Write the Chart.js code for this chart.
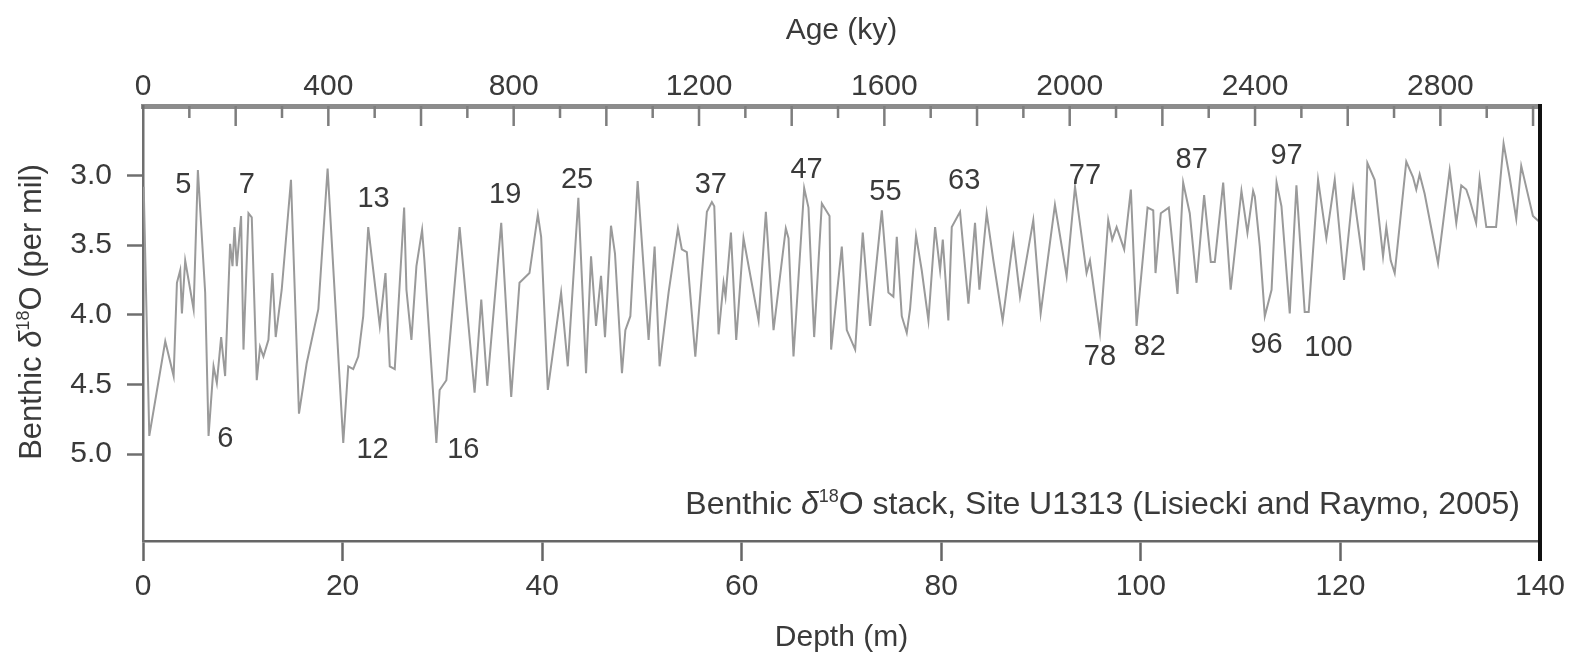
<!DOCTYPE html>
<html><head><meta charset="utf-8">
<script src="https://cdn.jsdelivr.net/npm/chart.js@4.4.1/dist/chart.umd.min.js"></script>
<style>html,body{margin:0;padding:0;background:#fff;}canvas{display:block;}</style>
</head><body>
<canvas id="c" width="1575" height="657"></canvas>
<script>
// ---- data ----
const depth = [
0.07,0.63,2.23,3.07,3.40,3.73,3.90,4.23,5.07,5.50,6.23,6.57,7.07,7.40,7.83,8.23,8.73,8.97,9.17,9.40,
9.83,10.07,10.57,10.90,11.40,11.73,12.07,12.57,12.97,13.30,13.90,14.83,15.63,16.40,17.57,18.50,20.07,20.57,21.07,21.57,
22.07,22.57,23.73,24.30,24.73,25.23,26.17,26.40,26.90,27.40,27.97,28.20,29.40,29.73,30.40,31.73,33.23,33.90,34.50,35.90,
36.90,37.73,38.73,39.57,39.90,40.57,41.90,42.57,43.63,44.40,44.90,45.40,45.90,46.30,46.90,47.30,48.00,48.34,48.84,49.57,
50.67,51.27,51.77,52.67,53.61,54.00,54.50,55.35,56.51,57.01,57.25,57.68,58.18,58.38,58.92,59.45,60.18,61.69,62.42,63.19,
64.42,64.69,65.19,66.26,66.69,67.26,68.03,68.80,68.96,70.03,70.53,71.37,72.13,72.87,74.04,74.70,75.20,75.54,76.04,76.54,
76.87,77.47,78.04,78.71,79.38,79.88,80.15,80.71,81.05,81.88,82.72,83.38,83.82,84.55,85.22,86.15,87.22,87.89,89.22,89.96,
91.39,92.56,93.40,94.56,94.90,95.90,96.73,97.13,97.57,98.33,99.00,99.57,100.67,101.24,101.47,102.00,102.80,103.67,104.24,104.90,
105.58,106.34,107.01,107.41,108.25,109.00,110.08,110.68,111.25,111.42,111.92,112.42,113.10,113.60,114.09,114.92,115.59,116.42,116.82,117.76,
118.59,119.43,120.36,121.27,122.36,122.70,123.43,124.27,124.60,125.04,125.44,126.60,127.27,127.60,127.94,128.44,129.78,130.95,131.61,132.11,
132.61,132.94,133.60,133.95,134.62,135.60,136.35,136.95,137.62,138.12,139.29,139.90
];
const d18O = [
3.08,4.87,4.19,4.44,3.77,3.68,3.99,3.61,3.96,2.96,3.84,4.87,4.37,4.49,4.16,4.44,3.49,3.65,3.37,3.65,
3.29,4.25,3.27,3.30,4.47,4.23,4.30,4.18,3.70,4.16,3.82,3.03,4.71,4.35,3.96,2.95,4.92,4.37,4.39,4.30,
4.01,3.37,4.08,3.70,4.37,4.39,3.23,3.82,4.18,3.65,3.39,3.61,4.92,4.54,4.47,3.37,4.56,3.89,4.51,3.34,
4.59,3.77,3.70,3.28,3.44,4.54,3.84,4.37,3.16,4.42,3.58,4.08,3.72,4.16,3.36,3.56,4.42,4.11,4.01,3.04,
4.18,3.51,4.37,3.84,3.38,3.53,3.55,4.30,3.26,3.19,3.22,4.14,3.77,3.87,3.41,4.18,3.45,4.04,3.26,4.11,
3.38,3.45,4.30,3.09,3.23,4.16,3.20,3.29,4.25,3.51,4.11,4.25,3.41,4.08,3.25,3.84,3.87,3.44,4.01,4.13,
3.96,3.43,3.68,4.04,3.37,3.68,3.46,4.04,3.37,3.26,3.92,3.34,3.82,3.27,3.61,4.04,3.45,3.87,3.32,3.99,
3.21,3.72,3.08,3.70,3.61,4.13,3.32,3.46,3.37,3.53,3.10,4.08,3.23,3.25,3.70,3.27,3.23,3.85,3.05,3.27,
3.77,3.14,3.62,3.62,3.05,3.82,3.11,3.41,3.11,3.15,3.51,4.01,3.82,3.05,3.22,3.99,3.07,3.98,3.98,3.03,
3.45,3.03,3.75,3.10,3.68,2.91,3.03,3.58,3.37,3.61,3.70,2.90,3.01,3.10,2.99,3.13,3.63,2.96,3.34,3.07,
3.10,3.17,3.34,3.02,3.37,3.37,2.77,3.01,3.31,2.93,3.29,3.33
];
const depthTicks = [0,20,40,60,80,100,120,140];
const ageTicks = [0,400,800,1200,1600,2000,2400,2800];
const ageMinorTicks = [100,200,300,400,500,600,700,800,900,1000,1100,1200,1300,1400,1500,1600,1700,1800,1900,2000,2100,2200,2300,2400,2500,2600,2700,2800,2900,3000];
const d18OTicks = [3.0,3.5,4.0,4.5,5.0];
const misLabels = ['5','7','13','19','25','37','47','55','63','77','87','97','6','12','16','78','82','96','100'];
const misDepth  = [4.05,10.4,23.1,36.3,43.5,56.9,66.5,74.4,82.3,94.4,105.1,114.6,8.25,23.0,32.1,95.9,100.9,112.6,118.8];
const misValue  = [3.07,3.07,3.17,3.14,3.03,3.07,2.96,3.12,3.04,3.00,2.89,2.86,4.89,4.97,4.97,4.30,4.23,4.22,4.24];

const FONT = '"Liberation Sans", Arial, Helvetica, sans-serif';
const TXT = '#3a3a3a';

function richWidth(ctx, segs) {
  let w = 0;
  segs.forEach(s => { ctx.font = s.f; s.w = ctx.measureText(s.t).width; w += s.w; });
  return w;
}
function drawRich(ctx, segs, x0, base) {
  segs.forEach(s => { ctx.font = s.f; ctx.fillText(s.t, x0, base + s.dy); x0 += s.w; });
}

const overlay = {
  id: 'overlay',
  afterDraw(chart) {
    const {ctx, chartArea: a, scales} = chart;
    const sx = scales.x, sy = scales.y, s2 = scales.x2;
    ctx.save();
    // inward ticks of the top (age) axis
    ctx.strokeStyle = '#7d7d7d'; ctx.lineWidth = 2.5;
    ageMinorTicks.forEach(v => {
      const px = s2.getPixelForValue(v);
      const len = (v % 200 === 0) ? 20 : 12;
      ctx.beginPath(); ctx.moveTo(px, a.top); ctx.lineTo(px, a.top + len); ctx.stroke();
    });
    // right frame line
    ctx.strokeStyle = '#111'; ctx.lineWidth = 4;
    ctx.beginPath(); ctx.moveTo(a.right, a.top - 2); ctx.lineTo(a.right, a.bottom + 20); ctx.stroke();
    // MIS labels
    ctx.fillStyle = TXT; ctx.font = '29px ' + FONT;
    ctx.textAlign = 'center'; ctx.textBaseline = 'middle';
    misLabels.forEach((t, i) => ctx.fillText(t, sx.getPixelForValue(misDepth[i]), sy.getPixelForValue(misValue[i])));
    // source note
    ctx.textAlign = 'left'; ctx.textBaseline = 'alphabetic';
    const note = [
      {t: 'Benthic ', f: '32px ' + FONT, dy: 0},
      {t: '\u03B4', f: 'italic 32px ' + FONT, dy: 0},
      {t: '18', f: '18px ' + FONT, dy: -12},
      {t: 'O stack, Site U1313 (Lisiecki and Raymo, 2005)', f: '32px ' + FONT, dy: 0}
    ];
    const wn = richWidth(ctx, note);
    drawRich(ctx, note, a.right - 20 - wn, a.bottom - 27);
    // y-axis title (rotated)
    const yt = [
      {t: 'Benthic ', f: '31px ' + FONT, dy: 0},
      {t: '\u03B4', f: 'italic 31px ' + FONT, dy: 0},
      {t: '18', f: '18px ' + FONT, dy: -12},
      {t: 'O (per mil)', f: '31px ' + FONT, dy: 0}
    ];
    const wy = richWidth(ctx, yt);
    ctx.translate(41, 312);
    ctx.rotate(-Math.PI / 2);
    drawRich(ctx, yt, -wy / 2, 0);
    ctx.restore();
  }
};

new Chart(document.getElementById('c'), {
  type: 'line',
  data: { datasets: [{
    label: 'Benthic d18O',
    data: depth.map((d, i) => ({x: d, y: d18O[i]})),
    borderColor: '#9a9a9a', borderWidth: 2, pointRadius: 0, tension: 0, fill: false,
    xAxisID: 'x', yAxisID: 'y'
  }]},
  options: {
    responsive: false, animation: false, devicePixelRatio: 1,
    layout: {padding: {left: 0, right: 35, top: 0, bottom: 0}},
    plugins: {legend: {display: false}, tooltip: {enabled: false}},
    scales: {
      x: {
        type: 'linear', position: 'bottom', min: 0, max: 140,
        afterBuildTicks: s => { s.ticks = depthTicks.map(v => ({value: v})); },
        afterFit: s => { s.height = 116; },
        ticks: {autoSkip: false, maxRotation: 0, padding: 8, color: TXT, font: {family: FONT, size: 30}, callback: v => String(v)},
        grid: {drawOnChartArea: false, drawTicks: true, tickLength: 20, tickWidth: 2.5, tickColor: '#666'},
        border: {display: true, color: '#666', width: 2.5},
        title: {display: true, text: 'Depth (m)', color: TXT, font: {family: FONT, size: 30}, padding: {top: 0, bottom: 1}}
      },
      x2: {
        type: 'linear', axis: 'x', position: 'top', min: 0, max: 3015,
        afterBuildTicks: s => { s.ticks = ageTicks.map(v => ({value: v})); },
        afterFit: s => { s.height = 106; },
        ticks: {autoSkip: false, maxRotation: 0, padding: 1, color: TXT, font: {family: FONT, size: 30}, callback: v => String(v)},
        grid: {drawOnChartArea: false, drawTicks: false},
        border: {display: true, color: '#8c8c8c', width: 5},
        title: {display: true, text: 'Age (ky)', color: TXT, font: {family: FONT, size: 30}, padding: {top: 13, bottom: 0}}
      },
      y: {
        type: 'linear', position: 'left', reverse: true, min: 2.5, max: 5.625,
        afterBuildTicks: s => { s.ticks = d18OTicks.map(v => ({value: v})); },
        afterFit: s => { s.width = 143; },
        ticks: {autoSkip: false, padding: 15, color: TXT, font: {family: FONT, size: 30}, callback: v => Number(v).toFixed(1)},
        grid: {drawOnChartArea: false, drawTicks: true, tickLength: 16, tickWidth: 2.5, tickColor: '#6f6f6f'},
        border: {display: true, color: '#6f6f6f', width: 2.5},
        title: {display: false}
      }
    }
  },
  plugins: [overlay]
});
</script>
</body></html>
